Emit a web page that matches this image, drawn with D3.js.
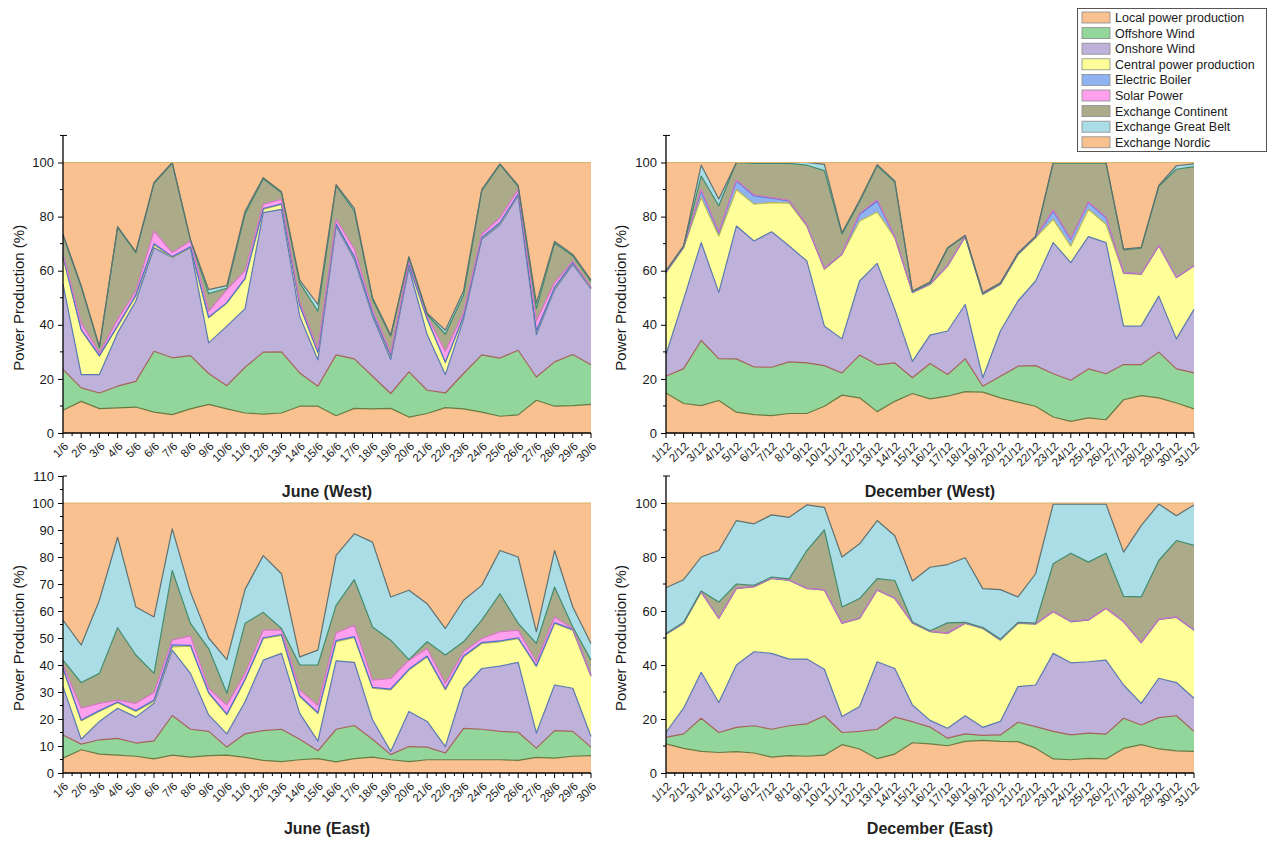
<!DOCTYPE html>
<html><head><meta charset="utf-8">
<script src="https://cdn.jsdelivr.net/npm/d3@7"></script>
<style>body{margin:0;background:#fff}svg text{font-family:"Liberation Sans",Arial,sans-serif;fill:#1a1a1a}</style>
</head><body><svg id="chart" width="1269" height="841"></svg>
<script>
// ---------- categories ----------
const seriesNames = ["Local power production","Offshore Wind","Onshore Wind","Central power production","Electric Boiler","Solar Power","Exchange Continent","Exchange Great Belt","Exchange Nordic"];
const juneDays = ["1/6","2/6","3/6","4/6","5/6","6/6","7/6","8/6","9/6","10/6","11/6","12/6","13/6","14/6","15/6","16/6","17/6","18/6","19/6","20/6","21/6","22/6","23/6","24/6","25/6","26/6","27/6","28/6","29/6","30/6"];
const decDays = ["1/12","2/12","3/12","4/12","5/12","6/12","7/12","8/12","9/12","10/12","11/12","12/12","13/12","14/12","15/12","16/12","17/12","18/12","19/12","20/12","21/12","22/12","23/12","24/12","25/12","26/12","27/12","28/12","29/12","30/12","31/12"];
const westTicks = [0,20,40,60,80,100];
const juneEastTicks = [0,10,20,30,40,50,60,70,80,90,100,110];
const decEastTicks = [0,20,40,60,80,100];

// ---------- June (West) ----------
const jwLocal = [8.4,11.7,9,9.3,9.6,7.7,6.8,8.9,10.6,8.9,7.4,7,7.4,9.9,9.9,6.4,9.1,8.9,9.1,5.9,7.2,9.4,8.9,7.7,6.2,6.7,12.1,9.9,10.1,10.6];
const jwOffshore = [15.1,5,5.8,8,9.5,22.5,21,19.7,11.4,8.6,16.9,22.9,22.6,12.3,7.4,22.5,18.3,12.1,5.5,16.7,8.6,5.4,13.1,21.2,21.5,23.9,8.6,16.4,18.9,14.6];
const jwOnshore = [31.5,4.9,6.8,19.7,29.7,38.3,37,39.9,11.3,22,21.7,51.6,52.7,21,9.7,47.6,36.8,22.2,12.6,38.5,20.6,6.8,20,42.7,49.3,57.1,15.7,26.7,33.3,28.1];
const jwCentral = [10,16.4,6.8,2.5,1.8,1,0,0,9.3,8.5,11,1.2,1.8,3.8,2.6,0.5,0.8,0.8,1.2,0.9,5.6,4.4,1,0.4,0.5,0.3,1.1,0.5,0.5,0.2];
const jwBoiler = [0.2,0.2,0.2,0.2,0.4,0.5,0.4,0.3,0.2,0.2,0.2,0.3,0.2,0.2,0.2,0.3,0.3,0.3,0.2,0.3,0.2,0.2,0.2,0.3,0.3,0.3,0.3,0.3,0.2,0.2];
const jwSolar = [0.8,2.5,1,2.3,1.5,4.7,1.5,2.2,2.2,4.8,2.8,1.5,1.7,1.3,1.2,1.7,2.7,1.4,1,1.2,1,4,1.3,1.2,1.8,1.7,3.6,1.8,0.5,0.3];
const jwContinent = [7,13.3,1.9,34,14.2,17.6,33.1,0.3,6.5,0.5,21,9.5,2.4,7,14,12.4,14,3.7,6.2,1.3,0.6,6.3,6.5,16.1,19.6,1.2,4.6,14.6,2,2];
const jwGreatBelt = [0.5,0.5,0.5,0.3,0.3,0.3,0.2,0.2,1.5,1,1,0.4,0.4,1,2.5,0.4,1,0.6,0.4,0.4,0.5,1.5,1.5,0.4,0.3,0.3,2,0.6,0.5,0.5];
const jwNordic = [26.5,45.5,68,23.7,33,7.4,0,28.5,47,45.5,18,5.6,10.8,43.5,52.5,8.2,17,50,63.8,34.8,55.7,62,47.5,10,0.5,8.5,52,29.2,34,43.5];

// ---------- December (West) ----------
const dwLocal = [14.8,10.9,10.1,12,7.7,6.8,6.4,7.2,7.2,9.9,14,13,7.9,11.7,14.6,12.6,13.6,15.3,15.1,13,11.4,9.9,5.9,4.3,5.6,4.9,12.3,13.8,13,11.1,8.9];
const dwOffshore = [6.2,12.9,24.1,15.5,19.7,17.6,17.9,19.1,18.7,15,8.2,15.8,17.3,14.2,5.8,13.1,8,12.1,2.2,8,13.3,15,16,15.2,18.1,17,13,11.5,16.9,12.6,13.3];
const dwOnshore = [8,25.6,36.2,24.5,49.1,46.6,50.1,42.8,37.7,14.6,12.6,27.4,37.5,19.8,6.1,10.5,16.1,20.1,3.1,16.7,24.1,31.3,48.5,43.5,48.9,48.5,14.2,14.2,20.7,11.1,23.5];
const dwCentral = [30.3,19.1,16.6,20.8,13.5,13.6,10.8,15.9,12.9,21,31.2,22.2,19,26.5,25.4,18.7,24,25,30.8,17.2,17.2,16,8.6,6.1,10.1,6.8,19.5,19.1,18.6,22.6,16];
const dwBoiler = [0.1,0.1,2.5,1.2,3.2,3.1,1.6,0.8,0.3,0.2,0.2,2.5,4.1,0.3,0.1,0.1,0.1,0.1,0.1,0.1,0.1,0.1,3.1,2.5,2.5,2.4,0.2,0.2,0.1,0.1,0.1];
const dwSolar = [0.1,0.1,0.5,0.3,0.3,0.3,0.2,0.2,0.2,0.1,0.1,0.3,0.4,0.1,0.1,0.1,0.1,0.1,0.1,0.1,0.1,0.1,0.3,0.2,0.2,0.2,0.1,0.1,0.1,0.1,0.1];
const dwContinent = [0.3,0.3,5,9.7,6.5,11.7,12.7,13.7,22,36.2,7.2,4.3,12.6,20.2,0.2,0.4,6.4,0.2,0.2,0.2,0.2,0.2,17.4,28,14.4,20,8.4,9.4,21.8,39.9,36.6];
const dwGreatBelt = [0.2,0.2,4,2.5,0,0.3,0.3,0.3,1,2.3,0.5,0.5,0.4,0.4,0.2,0.3,0.2,0.2,0.2,0.2,0.2,0.2,0.2,0.2,0.2,0.2,0.3,0.3,0.3,1.3,1];
const dwNordic = [40,30.8,1,13.5,0,0,0,0,0,0.7,26,14,0.8,6.8,47.5,44.2,31.5,26.9,48.2,44.5,33.4,27.2,0,0,0,0,32,31.4,8.5,1.2,0.5];

// ---------- June (East) ----------
const jeLocal = [5.5,8.6,7,6.6,6.2,5.2,6.6,5.9,6.4,6.6,5.8,4.7,4.2,4.9,5.3,4.1,5.3,5.9,4.9,4.2,4.9,4.9,4.9,4.9,4.9,4.7,5.8,5.5,6.2,6.4];
const jeOffshore = [8.6,2.1,5.3,6.2,4.9,6.7,14.7,10.3,9,3,8.7,11,12,7.6,2.9,12.1,12.3,6.6,1.9,5.6,4.7,2.5,11.6,11.3,10.5,10.4,3.4,10.2,9.2,3.2];
const jeOnshore = [17.9,1.8,6.8,11.2,9.6,13.9,24.2,20.7,6.1,4.9,11.9,26.1,28.1,9.6,3.6,25.3,23.4,7.2,1.2,13,9.5,2.4,14.9,22.5,24.2,25.9,5.6,16.9,16,3.9];
const jeCentral = [6.5,6.8,3.7,2,2.1,0.7,1.2,10.1,8,7,8,8,6.7,6.2,10.2,7.1,9.1,11.7,22.8,15.3,23.9,21,11.6,9.3,9,8.8,24.6,22.8,21.5,22.2];
const jeBoiler = [0.3,0.3,0.3,0.3,0.3,0.5,0.8,0.3,0.3,0.3,0.3,0.3,0.3,0.3,0.3,0.4,0.4,0.3,0.3,0.3,0.3,0.3,0.3,0.3,0.3,0.3,0.3,0.3,0.3,0.3];
const jeSolar = [1.2,4.4,2.7,0.7,2.7,2.8,1.7,3.5,1.6,3.4,2.2,2.8,1.7,2.2,2.7,2.9,4.2,2.7,3.9,3.4,2.8,2.1,1.6,1.5,3.4,2.8,1.5,2.1,0.3,0.3];
const jeContinent = [1.8,9.5,11.1,26.8,17.9,7.1,25.8,4.6,14.7,4.3,18.6,6.6,0.5,9.2,15,10.2,16.9,19.7,14.2,0.2,2.5,10.5,3.7,6.8,14.1,2.5,6.8,11.1,0.6,5.5];
const jeGreatBelt = [14.8,13.9,27.1,33.5,17.8,20.9,15.4,11.6,3.9,12.5,12.5,21,20.3,3,5.5,18.5,17,31.4,16,25.7,14.1,9.8,15.4,12.9,16,24.6,4.3,13.5,7.4,6.2];
const jeNordic = [43.4,52.6,36,12.7,38.5,42.2,9.6,33,50,58,32,19.5,26.2,57,54.5,19.4,11.4,14.5,34.8,32.3,37.3,46.5,36,30.5,17.6,20,47.7,17.6,38.5,52];

// ---------- December (East) ----------
const deLocal = [10.8,9.1,8,7.6,7.9,7.4,5.9,6.4,6.2,6.6,10.5,8.9,5.3,7,11.2,10.8,10.1,11.7,12.1,11.7,11.6,9.2,5.2,4.9,5.4,5.2,9.1,10.5,8.9,8.2,8];
const deOffshore = [2.4,5.4,12.3,7.4,9,10.1,10.3,11.1,12,14.6,4.5,6.5,10.9,13.7,7.8,6.2,2.8,2.8,1.8,2.4,7.2,8,10.2,9.2,9.4,9.2,11.2,7.3,11.6,13,7.4];
const deOnshore = [1.9,9.5,17,11.1,23.1,27.4,28.1,24.7,24,17.2,5.9,9.2,25,18,6.2,2.5,3.7,6.7,3,5,13.2,15.4,28.9,26.7,26.4,27.4,12.3,8,14.6,12.3,12.3];
const deCentral = [36.2,31.4,29.7,31.1,28.3,24,27.7,29.1,26.1,29.3,34.5,32.6,26.5,25.9,30.3,32.8,35.1,34.2,36.6,30.1,23.4,22.5,15.4,15.2,15.4,19.1,23.4,22.4,21.7,24.1,25.2];
const deBoiler = [0.1,0.1,0.1,0.1,0.1,0.1,0.1,0.1,0.1,0.1,0.1,0.1,0.1,0.1,0.1,0.1,0.1,0.1,0.1,0.1,0.1,0.1,0.1,0.1,0.1,0.1,0.1,0.1,0.1,0.1,0.1];
const deSolar = [0.1,0.1,0.1,0.1,0.1,0.1,0.1,0.1,0.1,0.1,0.1,0.1,0.1,0.1,0.1,0.1,0.1,0.1,0.1,0.1,0.1,0.1,0.1,0.1,0.1,0.1,0.1,0.1,0.1,0.1,0.1];
const deContinent = [0.2,0.2,0.2,5.9,1.5,0.4,0.4,0.4,13.9,22.1,5.9,7.2,4.1,6.5,0.2,0.2,3.7,0.2,0.2,0.2,0.2,0.2,17.6,25.2,21.3,20.3,9.2,16.8,21.7,28.3,31.2];
const deGreatBelt = [16.9,15.8,12.6,19.1,23.5,22.8,23,22.8,16.9,8.4,18.5,20.3,21.5,16.6,15.2,23.5,21.6,23.9,14.4,18.3,9.4,18.3,22.1,18.2,21.5,18.2,16.4,26.4,20.9,9.2,15];
const deNordic = [31.4,28.4,20,17.6,6.5,7.7,4.4,5.3,0.7,1.6,20,15.1,6.5,12.1,28.9,23.8,22.8,20.3,31.7,32.1,34.8,26.2,0.4,0.4,0.4,0.4,18.2,8.4,0.4,4.7,0.7];

// ---------- styles ----------
const fillColors = ["#F9C190","#92D69C","#BEB2DB","#FFFF99","#8FB3F0","#FFA0EE","#ABAB8A","#ABDDE6","#F9C190"];
const lineColors = ["#6A7A40","#A5625A","#5A78B2","#B5B55C","#4E6FD0","#D477C2","#3F8C6C","#5E7070","#D9B46A"];

const svg = d3.select("#chart");
const keys = d3.range(9);

function drawPanel(p) {
  const n = p.labels.length;
  const rows = p.labels.map((lab, i) => { const r = {label: lab}; p.series.forEach((s, k) => r[k] = s[i]); return r; });
  const x = d3.scalePoint().domain(p.labels).range([p.x0, p.x1]);
  const unit = (p.yb - p.y100) / 100;
  const y = d3.scaleLinear().domain([0, 110]).range([p.yb, p.yb - 110 * unit]);
  const stack = d3.stack().keys(keys)(rows);
  const g = svg.append("g");
  const area = d3.area().x(d => x(d.data.label)).y0(d => y(d[0])).y1(d => y(d[1])).curve(d3.curveLinear);
  const line = d3.line().x(d => x(d.data.label)).y(d => y(d[1]));
  g.selectAll("path.a").data(stack).join("path").attr("class","a")
    .attr("d", area).attr("fill", (d,i) => fillColors[i]).attr("stroke","none");
  g.selectAll("path.l").data(stack).join("path").attr("class","l")
    .attr("d", line).attr("fill","none").attr("stroke",(d,i) => lineColors[i]).attr("stroke-width",1.2)
    .attr("stroke-linejoin","round");

  // x axis
  const xa = svg.append("g").attr("transform", `translate(0,${p.yb})`);
  xa.append("line").attr("x1", p.x0).attr("x2", p.x1).attr("stroke","#000").attr("stroke-width",1.3);
  const step = (p.x1 - p.x0) / (n - 1);
  p.labels.forEach((lab, i) => {
    const xx = x(lab);
    xa.append("line").attr("x1",xx).attr("x2",xx).attr("y1",0).attr("y2",5).attr("stroke","#000");
    if (i < n - 1) xa.append("line").attr("x1",xx+step/2).attr("x2",xx+step/2).attr("y1",0).attr("y2",3).attr("stroke","#000");
    xa.append("text").attr("transform",`translate(${xx+6},${14}) rotate(-45)`)
      .attr("text-anchor","end").attr("font-size",11.5).text(lab);
  });

  // y axis
  const ya = svg.append("g").attr("transform", `translate(${p.x0},0)`);
  ya.append("line").attr("y1", y(0)).attr("y2", y(110)).attr("stroke","#000").attr("stroke-width",1.3);
  ya.append("line").attr("x1",0).attr("x2",4).attr("y1",y(110)).attr("y2",y(110)).attr("stroke","#000");
  const axis = d3.axisLeft(y).tickValues(p.ticks).tickSize(5).tickPadding(4).tickFormat(d3.format("d"));
  const ag = ya.append("g").call(axis);
  ag.select(".domain").remove();
  ag.selectAll("text").attr("font-size",13).style("font-family",'"Liberation Sans",Arial,sans-serif').attr("fill","#1a1a1a");
  const minorStep = (p.ticks[1] - p.ticks[0]) / 2;
  for (let v = minorStep; v <= 110.001; v += minorStep * 2) {
    ya.append("line").attr("x1",-3).attr("x2",0).attr("y1",y(v)).attr("y2",y(v)).attr("stroke","#000");
  }

  // titles
  svg.append("text").attr("x",(p.x0+p.x1)/2).attr("y",p.titleY).attr("text-anchor","middle")
    .attr("font-size",16).attr("font-weight","bold").style("fill","#222").text(p.title);
  svg.append("text").attr("transform",`translate(${p.yTitleX},${(p.yb+p.y100)/2}) rotate(-90)`)
    .attr("text-anchor","middle").attr("font-size",15).text("Power Production (%)");
}

const panels = [
  {title:"June (West)", labels:juneDays, x0:63, x1:591, yb:433, y100:162.5, ticks:westTicks, titleY:497, yTitleX:24,
   series:[jwLocal,jwOffshore,jwOnshore,jwCentral,jwBoiler,jwSolar,jwContinent,jwGreatBelt,jwNordic]},
  {title:"December (West)", labels:decDays, x0:666, x1:1194, yb:433, y100:162.5, ticks:westTicks, titleY:497, yTitleX:626,
   series:[dwLocal,dwOffshore,dwOnshore,dwCentral,dwBoiler,dwSolar,dwContinent,dwGreatBelt,dwNordic]},
  {title:"June (East)", labels:juneDays, x0:63, x1:591, yb:773, y100:503, ticks:juneEastTicks, titleY:834, yTitleX:24,
   series:[jeLocal,jeOffshore,jeOnshore,jeCentral,jeBoiler,jeSolar,jeContinent,jeGreatBelt,jeNordic]},
  {title:"December (East)", labels:decDays, x0:666, x1:1194, yb:773, y100:503, ticks:decEastTicks, titleY:834, yTitleX:626,
   series:[deLocal,deOffshore,deOnshore,deCentral,deBoiler,deSolar,deContinent,deGreatBelt,deNordic]}
];
panels.forEach(drawPanel);

// legend
const lg = svg.append("g");
lg.append("rect").attr("x",1077.5).attr("y",8.5).attr("width",189).attr("height",143)
  .attr("fill","#fff").attr("stroke","#555").attr("stroke-width",1);
seriesNames.forEach((name, i) => {
  const cy = 17.5 + i * 15.6;
  lg.append("rect").attr("x",1082).attr("y",cy-5.5).attr("width",28).attr("height",11)
    .attr("fill",fillColors[i]).attr("stroke","#8a8a8a").attr("stroke-width",0.8);
  lg.append("text").attr("x",1115).attr("y",cy+4.5).attr("font-size",12.5).attr("textLength", null).text(name);
});
</script></body></html>
